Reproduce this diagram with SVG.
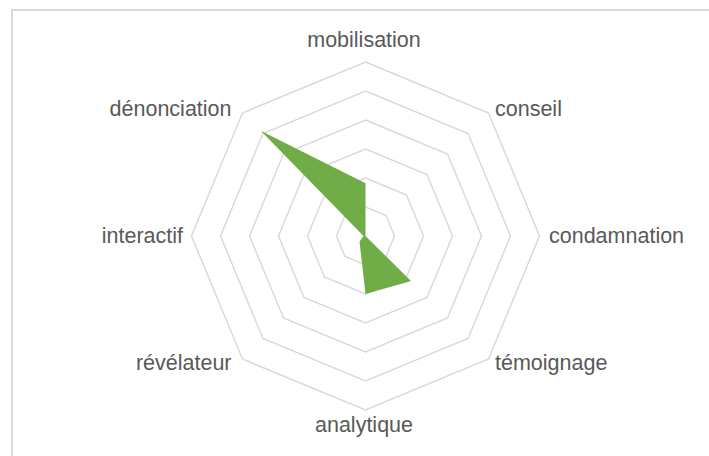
<svg xmlns="http://www.w3.org/2000/svg" width="709" height="456" viewBox="0 0 709 456">
<style>
.ring{fill:none;stroke:#D9D9D9;stroke-width:1.5;stroke-linejoin:miter}
.lbl{font-family:"Liberation Sans",Arial,sans-serif;font-size:21.5px;fill:#595959}
</style>
<rect x="0" y="0" width="709" height="456" fill="#FFFFFF"/>
<rect x="12" y="10" width="720" height="470" fill="#FFFFFF" stroke="#D9D9D9" stroke-width="2"/>
<g id="grid">
<polygon class="ring" points="365.5,207 386.01,215.49 394.5,236 386.01,256.51 365.5,265 344.99,256.51 336.5,236 344.99,215.49"/>
<polygon class="ring" points="365.5,178 406.51,194.99 423.5,236 406.51,277.01 365.5,294 324.49,277.01 307.5,236 324.49,194.99"/>
<polygon class="ring" points="365.5,149 427.02,174.48 452.5,236 427.02,297.52 365.5,323 303.98,297.52 278.5,236 303.98,174.48"/>
<polygon class="ring" points="365.5,120 447.52,153.98 481.5,236 447.52,318.02 365.5,352 283.48,318.02 249.5,236 283.48,153.98"/>
<polygon class="ring" points="365.5,91 468.03,133.47 510.5,236 468.03,338.53 365.5,381 262.97,338.53 220.5,236 262.97,133.47"/>
<polygon class="ring" points="365.5,62 488.54,112.96 539.5,236 488.54,359.04 365.5,410 242.46,359.04 191.5,236 242.46,112.96"/>
</g>
<g id="series">
<polygon points="365.5,183.3 365.5,236 365.5,236 411,281 365.5,294 359.5,241.5 363.5,236 260.7,130.7" fill="#70AD47"/>
</g>
<g id="labels">
<text id="mobilisation" class="lbl" x="364" y="46.7" text-anchor="middle">mobilisation</text>
<text id="conseil" class="lbl" x="495" y="116">conseil</text>
<text id="condamnation" class="lbl" x="549" y="242.5">condamnation</text>
<text id="temoignage" class="lbl" x="495" y="370">témoignage</text>
<text id="analytique" class="lbl" x="364" y="432" text-anchor="middle">analytique</text>
<text id="revelateur" class="lbl" x="231.5" y="370" text-anchor="end">révélateur</text>
<text id="interactif" class="lbl" x="183" y="242.5" text-anchor="end">interactif</text>
<text id="denonciation" class="lbl" x="231.5" y="116" text-anchor="end">dénonciation</text>
</g>
</svg>
